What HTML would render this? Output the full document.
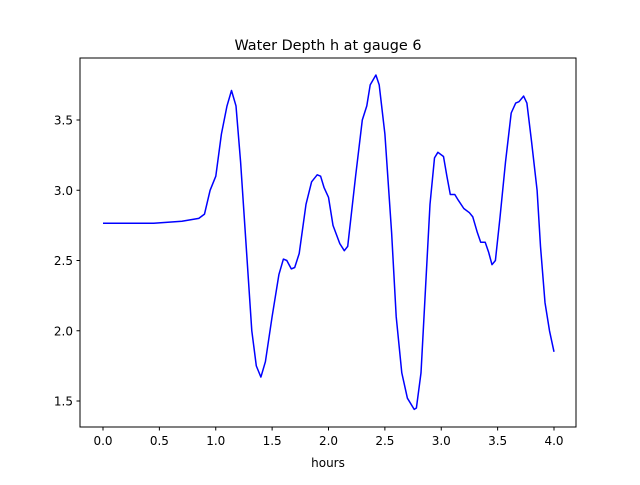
<!DOCTYPE html>
<html><head><meta charset="utf-8"><style>
body{margin:0;background:#fff;font-family:"Liberation Sans","DejaVu Sans",sans-serif}
svg text{font-family:"DejaVu Sans","Liberation Sans",sans-serif;font-size:12px;fill:#000}
</style></head><body>
<svg id="c" width="640" height="480">
<rect x="0" y="0" width="640" height="480" fill="#fff"/>
<text x="328" y="50" text-anchor="middle" style="font-size:14.4px">Water Depth h at gauge 6</text>
<g id="ax"></g>
<text x="328" y="467" text-anchor="middle">hours</text>
</svg>
<script>
const hours=[0,0.45,0.7,0.85,0.9,0.95,1.0,1.05,1.1,1.14,1.18,1.22,1.27,1.32,1.36,1.4,1.44,1.5,1.56,1.6,1.63,1.67,1.7,1.74,1.8,1.85,1.9,1.93,1.96,2.0,2.04,2.1,2.14,2.17,2.24,2.3,2.34,2.37,2.42,2.45,2.5,2.56,2.6,2.65,2.7,2.76,2.78,2.82,2.86,2.9,2.94,2.97,3.02,3.05,3.08,3.12,3.15,3.2,3.25,3.28,3.32,3.35,3.39,3.42,3.45,3.48,3.52,3.57,3.62,3.66,3.69,3.73,3.76,3.8,3.85,3.88,3.92,3.96,4.0];
const depth=[2.765,2.765,2.78,2.80,2.83,3.0,3.1,3.4,3.6,3.71,3.6,3.2,2.6,2.0,1.75,1.67,1.78,2.1,2.4,2.51,2.5,2.44,2.45,2.55,2.9,3.06,3.11,3.10,3.02,2.95,2.75,2.62,2.57,2.6,3.1,3.5,3.6,3.75,3.82,3.75,3.4,2.7,2.1,1.7,1.52,1.44,1.45,1.7,2.3,2.9,3.23,3.27,3.24,3.1,2.97,2.97,2.93,2.87,2.84,2.81,2.70,2.63,2.63,2.56,2.47,2.5,2.8,3.2,3.55,3.62,3.63,3.67,3.62,3.35,3.0,2.6,2.2,2.0,1.85];
const xTicks=[0,0.5,1,1.5,2,2.5,3,3.5,4];
const xTickLabels=["0.0","0.5","1.0","1.5","2.0","2.5","3.0","3.5","4.0"];
const yTicks=[1.5,2,2.5,3,3.5];
const yTickLabels=["1.5","2.0","2.5","3.0","3.5"];
const NS="http://www.w3.org/2000/svg";
const X=v=>103+v*112.75;
const Y=v=>120+(3.5-v)*140.5;
const g=document.getElementById('ax');
function mk(t,a){const e=document.createElementNS(NS,t);for(const k in a)e.setAttribute(k,a[k]);g.appendChild(e);return e;}
let pts=hours.map((h,i)=>X(h).toFixed(1)+","+Y(depth[i]).toFixed(1)).join(" ");
const line=mk('polyline',{points:pts,fill:'none',stroke:'#0000ff','stroke-width':1.5,'stroke-linejoin':'round'});


const frame=mk('rect',{x:80,y:58,width:496,height:369,fill:'none',stroke:'#000','stroke-width':1});


xTicks.forEach((t,i)=>{
 const tk=mk('line',{x1:X(t),x2:X(t),y1:427,y2:430.5,stroke:'#000'});
 
 
 const tx=mk('text',{x:X(t),y:445,'text-anchor':'middle'});tx.textContent=xTickLabels[i];
 
 
});
yTicks.forEach((t,i)=>{
 const tk=mk('line',{x1:76.5,x2:80,y1:Y(t),y2:Y(t),stroke:'#000'});
 
 
 const tx=mk('text',{x:73,y:Y(t)+4.5,'text-anchor':'end'});tx.textContent=yTickLabels[i];
 
 
});
</script>
</body></html>
